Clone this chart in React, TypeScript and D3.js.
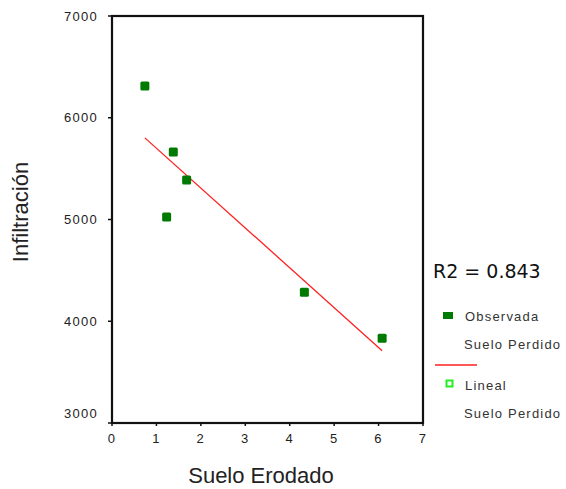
import React from "react";
import * as d3 from "d3";

const erodedSoil = [0.74, 1.38, 1.68, 1.23, 4.33, 6.08];
const infiltration = [6312, 5663, 5387, 5024, 4286, 3834];
const xTicks = [0, 1, 2, 3, 4, 5, 6, 7];
const yTicks = [3000, 4000, 5000, 6000, 7000];
const r2Label = "R2 = 0.843";
const xTitle = "Suelo Erodado";
const yTitle = "Infiltración";
const legendItems = ["Observada", "Suelo Perdido", "Lineal", "Suelo Perdido"];

const W = 566;
const H = 489;
const L = 112, R = 423, T = 16, B = 423;

export default function App() {
  const x = d3.scaleLinear().domain([0, 7]).range([L, R]);
  const y = d3.scaleLinear().domain([3000, 7000]).range([B, T]);

  const mx = d3.mean(erodedSoil)!;
  const my = d3.mean(infiltration)!;
  let sxy = 0, sxx = 0;
  erodedSoil.forEach((v, i) => {
    sxy += (v - mx) * (infiltration[i] - my);
    sxx += (v - mx) * (v - mx);
  });
  const slope = sxy / sxx;
  const icpt = my - slope * mx;
  const [x0, x1] = d3.extent(erodedSoil) as [number, number];
  const fitLine = d3.line<number>().x((d) => x(d)).y((d) => y(icpt + slope * d));

  const tickFont = { fontFamily: "Liberation Sans, Arial, sans-serif", fontSize: 13, letterSpacing: 1.3, fill: "#222" };
  const legFont = { fontFamily: "Liberation Sans, Arial, sans-serif", fontSize: 13, letterSpacing: 1.2, fill: "#333" };
  const s = 9;

  return (
    <svg width={W} height={H} style={{ position: "absolute", left: 0, top: 0, background: "#fff" }}>
      <rect x={0} y={0} width={W} height={H} fill="#fff" />
      <rect x={L} y={T} width={R - L} height={B - T} fill="none" stroke="#111" strokeWidth={2.2} />
      {yTicks.map((t) => (
        <g key={"y" + t}>
          <line x1={L - 4} x2={L} y1={y(t)} y2={y(t)} stroke="#111" strokeWidth={1.5} />
          <text x={98} y={t === 3000 ? y(t) - 10 : y(t)} dy="0.35em" textAnchor="end" {...tickFont}>
            {t}
          </text>
        </g>
      ))}
      {xTicks.map((t) => (
        <g key={"x" + t}>
          <line x1={x(t)} x2={x(t)} y1={B} y2={B + 3} stroke="#111" strokeWidth={1.5} />
          <text x={x(t)} y={438} dy="0.35em" textAnchor="middle" {...tickFont}>
            {t}
          </text>
        </g>
      ))}
      <path d={fitLine([x0, x1]) || ""} fill="none" stroke="#ff2020" strokeWidth={1.3} />
      {erodedSoil.map((v, i) => (
        <rect key={i} x={x(v) - s / 2} y={y(infiltration[i]) - s / 2} width={s} height={s} rx={1.5} fill="#007a00" />
      ))}
      <text x={261} y={483} textAnchor="middle" fontFamily="Liberation Sans, Arial, sans-serif" fontSize={22} fill="#222">
        {xTitle}
      </text>
      <text transform="translate(28,212) rotate(-90)" textAnchor="middle" fontFamily="Liberation Sans, Arial, sans-serif" fontSize={22} fill="#222">
        {yTitle}
      </text>
      <text x={433} y={278} fontFamily="DejaVu Sans, sans-serif" fontSize={19} fill="#111">
        {r2Label}
      </text>
      <rect x={443} y={312} width={10} height={7} fill="#007a00" />
      <text x={465} y={316} dy="0.35em" {...legFont}>{legendItems[0]}</text>
      <text x={464} y={344} dy="0.35em" {...legFont}>{legendItems[1]}</text>
      <line x1={435} x2={477} y1={365} y2={365} stroke="#ff2020" strokeWidth={1.5} />
      <rect x={446.5} y={380.5} width={6} height={6} fill="none" stroke="#22ee22" strokeWidth={2} />
      <text x={465} y={385} dy="0.35em" {...legFont}>{legendItems[2]}</text>
      <text x={464} y={413} dy="0.35em" {...legFont}>{legendItems[3]}</text>
    </svg>
  );
}
